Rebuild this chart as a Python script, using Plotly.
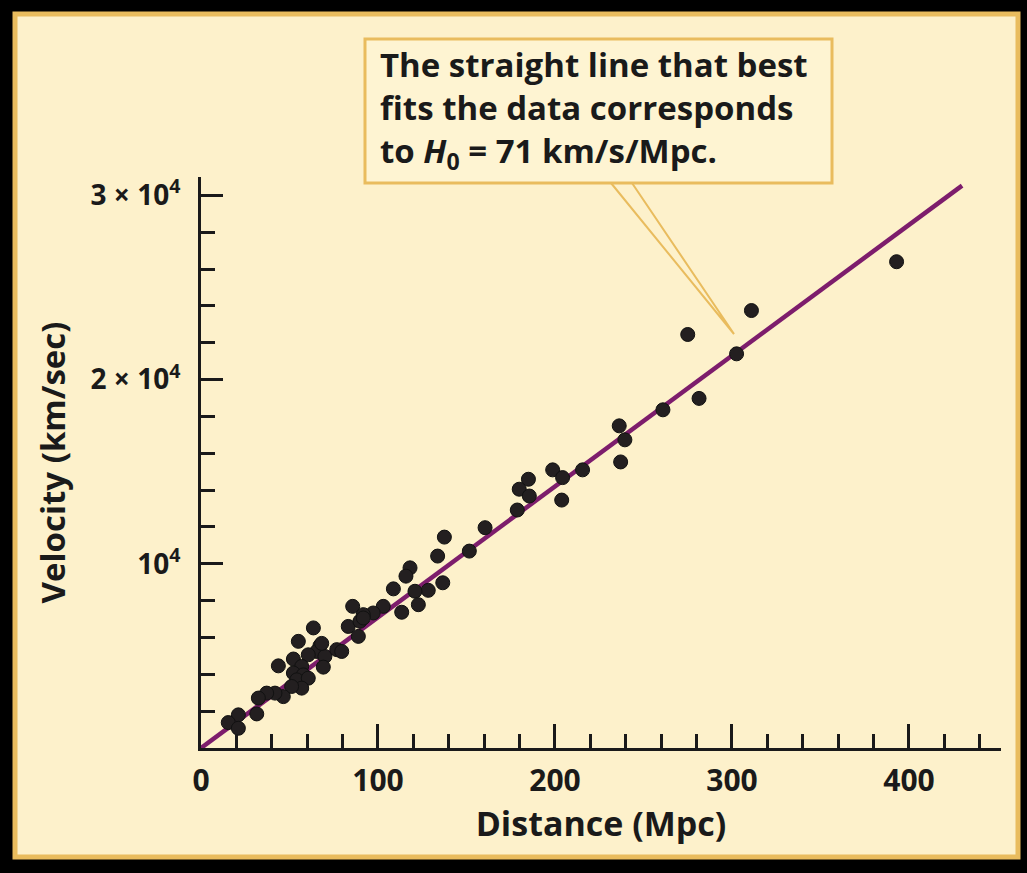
import plotly.graph_objects as go

# ---- data ----
distance_mpc = [393.0, 311.0, 275.0, 302.6, 281.4, 261.0, 236.3, 239.5, 237.1, 215.6,
                198.7, 204.3, 185.0, 179.8, 185.5, 203.8, 178.7, 160.5, 151.6, 137.5,
                133.7, 136.6, 128.4, 118.1, 115.8, 120.9, 122.8, 108.7, 113.4, 103.0,
                97.3, 85.7, 83.2, 88.9, 91.7, 89.8, 63.5, 55.0, 43.7, 52.2,
                67.2, 65.4, 70.0, 76.7, 79.5, 69.1, 60.6, 56.9, 52.2, 57.8,
                54.1, 60.6, 56.9, 51.2, 46.5, 41.8, 37.1, 32.4, 31.5, 21.1,
                15.4, 21.1, 68.2, 91.7]
velocity_kms = [26400, 23750, 22450, 21400, 18980, 18360, 17490, 16730, 15530, 15100,
                15100, 14680, 14590, 14050, 13680, 13460, 12920, 11960, 10690, 11450,
                10420, 8970, 8560, 9780, 9330, 8510, 7780, 8640, 7370, 7690,
                7330, 7690, 6600, 6060, 7240, 6880, 6520, 5790, 4460, 4830,
                5550, 5240, 4970, 5340, 5240, 4390, 5060, 4430, 4070, 3970,
                3700, 3790, 3250, 3340, 2790, 2980, 2980, 2710, 1850, 1800,
                1380, 1070, 5680, 7060]

H0 = 71  # km/s/Mpc
fit_distance = [0, 430]
fit_velocity = [H0 * d for d in fit_distance]

x_tickvals = [0, 100, 200, 300, 400]
x_ticktext = ["0", "100", "200", "300", "400"]
y_tickvals = [10000, 20000, 30000]
y_ticktext = ["10<sup>4</sup>", "2 × 10<sup>4</sup>", "3 × 10<sup>4</sup>"]

# ---- style ----
CREAM = "#FDF1CB"
ORANGE = "#E9BC5E"
PURPLE = "#7D1D6C"
DOT = "#231F20"
INK = "#1a1a1a"
FONT = "Open Sans"

W, H = 1027, 873
L, R, T, B = 201, 26, 177, 125
PW, PH = W - L - R, H - T - B


def px(xp):
    return (xp - L) / PW


def py(yp):
    return (H - B - yp) / PH


fig = go.Figure()

fig.add_trace(go.Scatter(
    x=fit_distance, y=fit_velocity, mode="lines",
    line=dict(color=PURPLE, width=4.5), hoverinfo="skip", cliponaxis=False,
))
fig.add_trace(go.Scatter(
    x=distance_mpc, y=velocity_kms, mode="markers",
    marker=dict(size=14, color=DOT, line=dict(color="#111111", width=1)),
    cliponaxis=False,
))

shapes = [
    # cream panel with orange frame
    dict(type="rect", xref="paper", yref="paper", layer="below",
         x0=px(15), x1=px(1018), y0=py(857), y1=py(14),
         fillcolor=CREAM, line=dict(color=ORANGE, width=5)),
    # callout box
    dict(type="rect", xref="paper", yref="paper", layer="below",
         x0=px(365), x1=px(832), y0=py(183), y1=py(39),
         fillcolor="#FEF4D2", line=dict(color=ORANGE, width=3)),
    # callout pointer
    dict(type="path", xref="paper", yref="paper", layer="below",
         path=f"M {px(611)} {py(183)} L {px(734)} {py(334)} L {px(632)} {py(183)}",
         line=dict(color=ORANGE, width=2)),
]

annotations = [
    dict(xref="paper", yref="paper", x=px(378), y=py(110), xanchor="left", yanchor="middle",
         align="left", showarrow=False,
         text="The straight line that best<br>fits the data corresponds<br>"
              "to <i>H</i><sub>0</sub> = 71 km/s/Mpc.",
         font=dict(family=FONT, size=33, color=INK, weight="bold")),
]

fig.update_layout(
    width=W, height=H,
    margin=dict(l=L, r=R, t=T, b=B),
    paper_bgcolor="#000000",
    plot_bgcolor=CREAM,
    showlegend=False,
    shapes=shapes,
    annotations=annotations,
    font=dict(family=FONT, color=INK),
    xaxis=dict(
        range=[0, 452], showgrid=False, zeroline=False,
        showline=True, linecolor=INK, linewidth=3,
        tickmode="array", tickvals=x_tickvals, ticktext=x_ticktext,
        ticks="inside", ticklen=24, tickwidth=3, tickcolor=INK,
        minor=dict(dtick=20, tick0=0, ticks="inside", ticklen=14, tickwidth=3, tickcolor=INK),
        tickfont=dict(family=FONT, size=30, weight="bold", color=INK),
        ticklabelstandoff=4,
        title=dict(text="Distance (Mpc)", standoff=6,
                   font=dict(family=FONT, size=34, weight="bold", color=INK)),
    ),
    yaxis=dict(
        range=[0, 31000], showgrid=False, zeroline=False,
        showline=True, linecolor=INK, linewidth=3,
        tickmode="array", tickvals=y_tickvals, ticktext=y_ticktext,
        ticks="inside", ticklen=22, tickwidth=3, tickcolor=INK,
        minor=dict(dtick=2000, tick0=0, ticks="inside", ticklen=14, tickwidth=3, tickcolor=INK),
        tickfont=dict(family=FONT, size=28, weight="bold", color=INK),
        ticklabelstandoff=12,
        title=dict(text="Velocity (km/sec)", standoff=16,
                   font=dict(family=FONT, size=33, weight="bold", color=INK)),
    ),
)

fig.write_html(
    "out.html",
    config={"displayModeBar": False},
    post_script="document.body.style.margin='0';document.body.style.background='#000';",
)
